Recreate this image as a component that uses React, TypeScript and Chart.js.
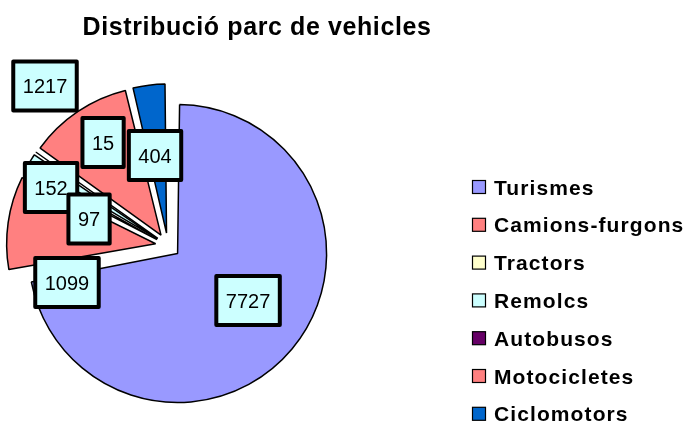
import React, { useEffect, useRef } from 'react';
import { Chart, registerables } from 'chart.js';

Chart.register(...registerables);

const TITLE = 'Distribució parc de vehicles';
const categories = ['Turismes', 'Camions-furgons', 'Tractors', 'Remolcs', 'Autobusos', 'Motocicletes', 'Ciclomotors'];
const values = [7727, 1099, 97, 152, 15, 1217, 404];
const colors = ['#9999FF', '#FF8080', '#FFFFCC', '#CCFFFF', '#660066', '#FF8080', '#0066CC'];

// Data-label placement relative to each slice (angular shift from the slice mid-angle, in degrees,
// and distance from the pie centre as a fraction of the radius)
const labelShiftDeg = [-5.35, -28.3, -9.7, -6.1, 22.5, -3.6, -1.4];
const labelRadiusFrac = [0.652, 0.722, 0.559, 0.876, 0.817, 1.352, 0.611];
const labelDrawOrder = [6, 5, 4, 3, 2, 1, 0];

const FONT = '"Liberation Sans", Arial, Helvetica, sans-serif';
const PIE_RADIUS = 149;
const EXPLODE = 50; // Chart.js arc offset (translation is offset / 4)

const radiusFix = {
  id: 'radiusFix',
  afterDatasetsUpdate(chart: any) {
    const meta = chart.getDatasetMeta(0);
    const R = meta.controller.outerRadius;
    meta.data.forEach((arc: any) => {
      const off = ((arc.options && arc.options.offset) || 0) / 4;
      const circ = arc.circumference || 0;
      const fix = 1 - Math.sin(Math.min(Math.PI, circ));
      arc.outerRadius = R - off * fix;
    });
  },
};

const labelsPlugin = {
  id: 'boxLabels',
  afterDatasetsDraw(chart: any) {
    const meta = chart.getDatasetMeta(0);
    const R = meta.controller.outerRadius;
    const ctx = chart.ctx as CanvasRenderingContext2D;
    ctx.save();
    ctx.font = `20px ${FONT}`;
    ctx.textAlign = 'center';
    ctx.textBaseline = 'alphabetic';
    labelDrawOrder.forEach((i) => {
      const arc: any = meta.data[i];
      const a = (arc.startAngle + arc.endAngle) / 2 + (labelShiftDeg[i] * Math.PI) / 180;
      const r = labelRadiusFrac[i] * R;
      const x = arc.x + Math.cos(a) * r;
      const y = arc.y + Math.sin(a) * r;
      const text = String(values[i]);
      const w = ctx.measureText(text).width + 19;
      const h = 49;
      ctx.fillStyle = '#CCFFFF';
      ctx.fillRect(x - w / 2, y - h / 2, w, h);
      ctx.lineWidth = 4;
      ctx.lineJoin = 'round';
      ctx.strokeStyle = '#000';
      ctx.strokeRect(x - w / 2, y - h / 2, w, h);
      ctx.fillStyle = '#000';
      ctx.fillText(text, x, y + 7.2);
    });
    ctx.restore();
  },
};

const titleLegendPlugin = {
  id: 'titleLegend',
  afterDraw(chart: any) {
    const ctx = chart.ctx as any;
    ctx.save();
    // title
    ctx.fillStyle = '#000';
    ctx.font = `bold 25px ${FONT}`;
    ctx.textAlign = 'center';
    ctx.textBaseline = 'alphabetic';
    ctx.letterSpacing = '0.6px';
    ctx.fillText(TITLE, 257, 35);
    // legend
    const ds = chart.data.datasets[0];
    ctx.font = `bold 21px ${FONT}`;
    ctx.textAlign = 'left';
    ctx.letterSpacing = '1.1px';
    (chart.data.labels as string[]).forEach((lab, i) => {
      const cy = 187 + i * 37.8;
      ctx.fillStyle = ds.backgroundColor[i];
      ctx.fillRect(472.5, cy - 6.5, 13, 13);
      ctx.lineWidth = 1.2;
      ctx.strokeStyle = '#000';
      ctx.strokeRect(472.5, cy - 6.5, 13, 13);
      ctx.fillStyle = '#000';
      ctx.fillText(lab, 494, cy + 7.5);
    });
    ctx.restore();
  },
};

export default function App() {
  const ref = useRef<HTMLCanvasElement>(null);
  useEffect(() => {
    const chart = new Chart(ref.current as HTMLCanvasElement, {
      type: 'pie',
      data: {
        labels: categories,
        datasets: [
          {
            data: values,
            backgroundColor: colors,
            borderColor: '#000000',
            borderWidth: 1.5,
            offset: EXPLODE,
            radius: PIE_RADIUS,
          } as any,
        ],
      },
      options: {
        responsive: false,
        animation: false,
        devicePixelRatio: 1,
        events: [],
        radius: PIE_RADIUS,
        layout: { padding: { left: 0, right: 349, top: 68, bottom: 0 } },
        plugins: {
          legend: { display: false },
          title: { display: false },
          tooltip: { enabled: false },
        },
      } as any,
      plugins: [radiusFix, labelsPlugin, titleLegendPlugin],
    });
    return () => chart.destroy();
  }, []);
  return (
    <div style={{ position: 'fixed', left: 0, top: 0, width: 685, height: 423, background: '#ffffff' }}>
      <canvas ref={ref} width={685} height={423} style={{ display: 'block' }} />
    </div>
  );
}
